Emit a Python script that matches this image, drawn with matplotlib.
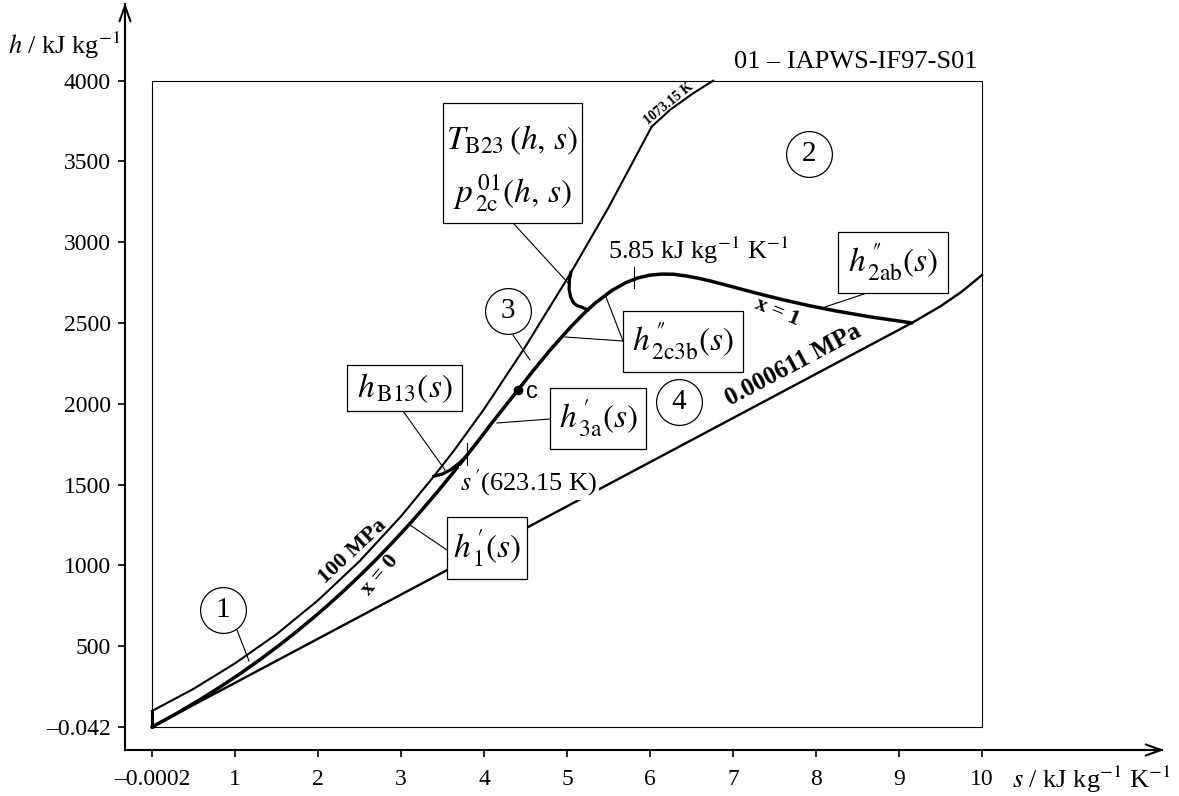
import numpy as np
import matplotlib.pyplot as plt
from matplotlib.patches import Rectangle

plt.rcParams['font.family'] = ['Liberation Serif', 'DejaVu Serif']
plt.rcParams['mathtext.fontset'] = 'stix'

# Saturated liquid line x = 0  (s in kJ kg-1 K-1, h in kJ kg-1)
liq_s = [0.0, 0.2965, 0.5724, 0.8313, 1.0753, 1.3069, 1.5278, 1.7392, 1.9428, 2.1392,
         2.3305, 2.5177, 2.7020, 2.8849, 3.0685, 3.2552, 3.4494, 3.6601, 3.7784, 3.9167,
         4.1070, 4.4120]
liq_h = [0.0, 83.9, 167.5, 251.2, 335.0, 419.2, 503.8, 589.2, 675.5, 763.1,
         852.3, 943.6, 1037.6, 1134.8, 1236.8, 1345.0, 1462.2, 1594.5, 1671.0, 1761.5,
         1889.7, 2087.5]

# Saturated vapour line x = 1, critical point down to triple point
vap_s = [4.4120, 4.6000, 4.8000, 5.0536, 5.2117, 5.3357, 5.5373, 5.7059, 5.8571, 5.9989,
         6.1423, 6.2854, 6.4302, 6.5857, 6.7491, 6.9285, 7.1280, 7.3541, 7.6111, 7.9072,
         8.2556, 8.6661, 9.1555]
vap_h = [2087.5, 2210.0, 2335.0, 2481.0, 2563.6, 2621.8, 2700.6, 2749.6, 2779.8, 2796.6,
         2803.0, 2801.9, 2792.0, 2777.2, 2757.4, 2733.5, 2705.9, 2675.6, 2643.0, 2608.8,
         2573.5, 2537.4, 2500.9]

# 100 MPa isobar, then the 1073.15 K isotherm up to the frame
p100_s = [0.0, 0.5, 1.0, 1.5, 2.0, 2.5, 3.0, 3.397, 3.65, 4.0, 4.5, 5.048, 5.5, 6.02]
p100_h = [99, 236, 394, 574, 784, 1026, 1304, 1552, 1719, 1967, 2355, 2813, 3215, 3715]
t1073_s = [6.02, 6.24, 6.52, 6.76]
t1073_h = [3715, 3819, 3922, 4000]

# 0.000611 MPa isobar (straight in the two-phase region)
p611_s = [0.0, 9.1555, 9.5, 9.75, 10.0]
p611_h = [0.0, 2500.9, 2604, 2692, 2797]

# 273.15 K isotherm on the left edge of region 1
t273_s = [0.0, 0.0]
t273_h = [0.0, 99]

# Region boundaries B13 and B23
b13_s = [3.397, 3.5, 3.6, 3.7, 3.778]
b13_h = [1552, 1566.1, 1593.0, 1632.5, 1671.0]
b23_s = [5.048, 5.030, 5.025, 5.045, 5.080, 5.120, 5.170, 5.250]
b23_h = [2813, 2770, 2710, 2660, 2625, 2608, 2600, 2581.5]

# Critical point
crit_s, crit_h = 4.412, 2087.5

# Ticks
x_ticks = [-0.0002, 1, 2, 3, 4, 5, 6, 7, 8, 9, 10]
x_labels = ['\u20130.0002', '1', '2', '3', '4', '5', '6', '7', '8', '9', '10']
y_ticks = [-0.042, 500, 1000, 1500, 2000, 2500, 3000, 3500, 4000]
y_labels = ['\u20130.042', '500', '1000', '1500', '2000', '2500', '3000', '3500', '4000']


# image pixel -> data, used only to place the annotations
def xs(px):
    return (px - 152) / 83.0


def yh(py):
    return (727 - py) * 6.189


fig = plt.figure(figsize=(11.79, 7.96), dpi=100)
ax = fig.add_axes([0, 0, 1, 1])
ax.set_xlim(xs(0), xs(1179))
ax.set_ylim(yh(796), yh(0))

# axes with arrows
for side in ['top', 'right']:
    ax.spines[side].set_visible(False)
ax.spines['left'].set_position(('data', xs(125)))
ax.spines['bottom'].set_position(('data', yh(750)))
ax.spines['left'].set_bounds(yh(750), yh(4))
ax.spines['bottom'].set_bounds(xs(125), xs(1162))
ax.spines['left'].set_linewidth(1.5)
ax.spines['bottom'].set_linewidth(1.5)
ax.annotate('', xy=(xs(125), yh(3)), xytext=(xs(125), yh(40)),
            arrowprops=dict(arrowstyle='->,head_length=0.55,head_width=0.2', lw=1.5,
                            mutation_scale=20, shrinkA=0, shrinkB=0))
ax.annotate('', xy=(xs(1164), yh(750)), xytext=(xs(1120), yh(750)),
            arrowprops=dict(arrowstyle='->,head_length=0.55,head_width=0.2', lw=1.5,
                            mutation_scale=20, shrinkA=0, shrinkB=0))

ax.set_xticks(x_ticks)
ax.set_xticklabels(x_labels)
ax.set_yticks(y_ticks)
ax.set_yticklabels(y_labels)
ax.tick_params(axis='both', direction='out', length=5, width=1.2, labelsize=17)
ax.tick_params(axis='x', pad=9)
ax.tick_params(axis='y', pad=5)

ax.text(xs(8), yh(45), r'$h$ / kJ kg$^{-1}$', fontsize=19, ha='left', va='center')
ax.text(xs(1012), yh(779), r'$s$ / kJ kg$^{-1}$ K$^{-1}$', fontsize=19, ha='left', va='center')
ax.text(xs(978), yh(62), '01 \u2013 IAPWS-IF97-S01', fontsize=19, ha='right', va='center')

# frame of the diagram
ax.add_patch(Rectangle((-0.0002, -0.042), 10.0002, 4000.042, fill=False, ec='black', lw=0.8, zorder=2))

# curves
ax.plot(p100_s, p100_h, color='black', lw=1.5, zorder=3)
ax.plot(t1073_s, t1073_h, color='black', lw=1.5, zorder=3)
ax.plot(p611_s, p611_h, color='black', lw=1.7, zorder=3)
ax.plot(t273_s, t273_h, color='black', lw=2.2, zorder=3)
ax.plot(liq_s, liq_h, color='black', lw=2.5, zorder=3, solid_capstyle='round')
ax.plot(vap_s, vap_h, color='black', lw=2.5, zorder=3, solid_capstyle='round')
ax.plot(b13_s, b13_h, color='black', lw=2.3, zorder=3)
ax.plot(b23_s, b23_h, color='black', lw=2.3, zorder=3, solid_joinstyle='round')
ax.plot(crit_s, crit_h, 'o', color='black', ms=6, zorder=4)
ax.text(xs(526), yh(392), 'c', family='Liberation Sans', fontsize=17, ha='left', va='center')

# line labels
ax.text(xs(353), yh(551), '100 MPa', fontsize=16, fontweight='bold', rotation=43,
        ha='center', va='center', rotation_mode='anchor')
ax.text(xs(380), yh(575), 'x = 0', fontsize=16, fontweight='bold', rotation=50,
        ha='center', va='center', rotation_mode='anchor')
ax.text(xs(777), yh(312), 'x = 1', fontsize=16, fontweight='bold', rotation=-22,
        ha='center', va='center', rotation_mode='anchor')
ax.text(xs(793), yh(365), '0.000611 MPa', fontsize=18, fontweight='bold', rotation=28,
        ha='center', va='center', rotation_mode='anchor')
ax.text(xs(669), yh(104), '1073.15 K', fontsize=10, fontweight='bold', rotation=39,
        ha='center', va='center', rotation_mode='anchor')

# entropy marks
ax.plot([xs(634), xs(634)], [yh(267), yh(288)], color='black', lw=0.8, zorder=4)
ax.text(xs(608), yh(250), r'5.85 kJ kg$^{-1}$ K$^{-1}$', fontsize=19, ha='left', va='center')
ax.plot([xs(467), xs(467)], [yh(443), yh(472)], color='black', lw=0.8, zorder=4)
ax.text(xs(460), yh(483), "$s^{\\,\u2032}$(623.15 K)", fontsize=19, ha='left', va='center',
        zorder=5, bbox=dict(fc='white', ec='none', pad=1))


# boxed function labels with leader lines
def leader(x0, y0, x1, y1):
    ax.plot([xs(x0), xs(x1)], [yh(y0), yh(y1)], color='black', lw=0.8, zorder=5)


def label_box(x0, y0, x1, y1, lines):
    ax.add_patch(Rectangle((xs(x0), yh(y1)), xs(x1) - xs(x0), yh(y0) - yh(y1),
                           fc='white', ec='black', lw=0.9, zorder=6))
    for ty, txt in lines:
        ax.text(xs((x0 + x1) / 2), yh(ty), txt, fontsize=24, ha='center', va='center', zorder=7)


label_box(443, 103, 582, 223, [(140, r'$T_{\mathrm{B23}}\,(h,\,s)$'),
                               (193, r'$p^{\,01}_{\,\mathrm{2c}}(h,\,s)$')])
leader(513, 223, 570, 285)
label_box(623, 311, 743, 372, [(341, '$h^{\\,\u2033}_{\\,\\mathrm{2c3b}}(s)$')])
leader(623, 341, 606, 297)
leader(623, 341, 565, 337)
label_box(838, 232, 948, 293, [(262, '$h^{\\,\u2033}_{\\,\\mathrm{2ab}}(s)$')])
leader(867, 293, 825, 307)
label_box(347, 365, 462, 411, [(388, r'$h_{\,\mathrm{B13}}(s)$')])
leader(403, 411, 445, 470)
label_box(550, 388, 646, 449, [(418, '$h^{\\,\u2032}_{\\,\\mathrm{3a}}(s)$')])
leader(550, 419, 497, 423)
label_box(447, 517, 527, 579, [(548, '$h^{\\,\u2032}_{\\,1}(s)$')])
leader(447, 550, 410, 525)

# region numbers
for cx, cy, num in [(223, 610, '1'), (809, 154, '2'), (508, 311, '3'), (679, 402, '4')]:
    ax.plot(xs(cx), yh(cy), 'o', ms=33, mfc='white', mec='black', mew=0.9, zorder=6)
    ax.text(xs(cx), yh(cy), num, fontsize=21, ha='center', va='center', zorder=7)
leader(513, 335, 530, 360)
leader(237, 630, 249, 661)

fig.savefig('out.png', dpi=100)
